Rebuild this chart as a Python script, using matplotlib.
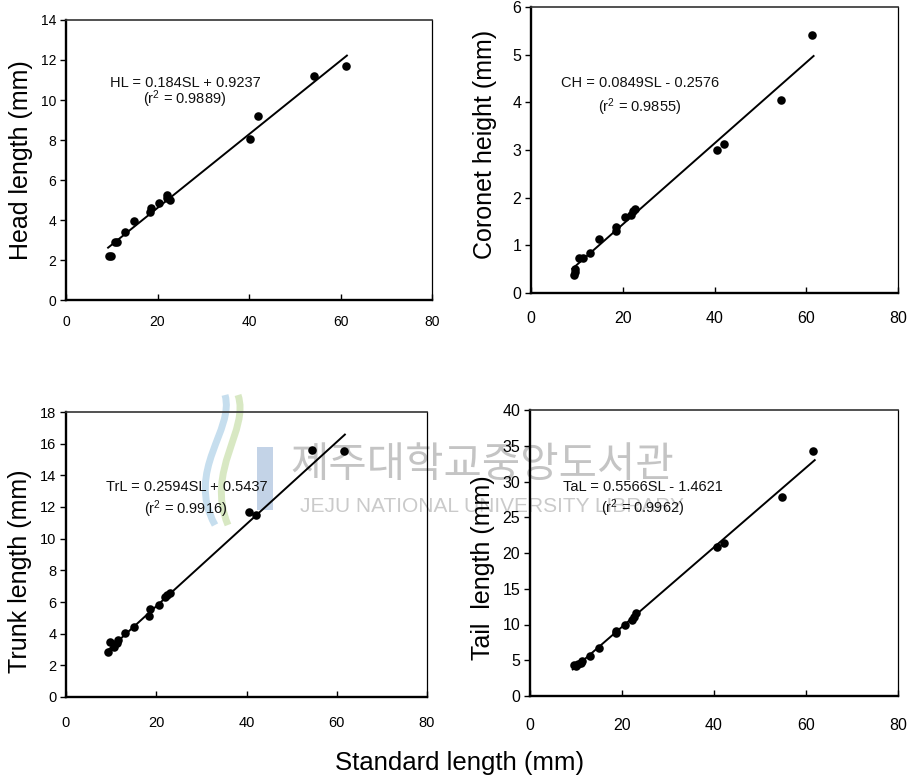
import matplotlib
matplotlib.use("Agg")
import matplotlib.pyplot as plt
import numpy as np
from matplotlib.path import Path
from matplotlib.patches import PathPatch, Rectangle

plt.rcParams['font.family'] = ['Liberation Sans', 'DejaVu Sans']
plt.rcParams['mathtext.fontset'] = 'custom'
plt.rcParams['mathtext.rm'] = 'Liberation Sans'
plt.rcParams['mathtext.it'] = 'Liberation Sans:italic'
plt.rcParams['mathtext.default'] = 'regular'

# ---------------- data ----------------
hl_sl = [9.5, 9.9, 10.7, 11.2, 12.9, 14.9, 18.3, 18.5, 20.4, 22.0, 22.0, 22.7, 40.3, 41.9, 54.3, 61.1]
hl = [2.2, 2.2, 2.92, 2.92, 3.42, 3.97, 4.42, 4.58, 4.87, 5.25, 5.08, 5.0, 8.03, 9.22, 11.2, 11.7]

ch_sl = [9.3, 9.5, 9.7, 10.5, 11.3, 12.9, 14.8, 18.5, 18.5, 20.5, 21.9, 22.3, 22.7, 40.6, 42.0, 54.6, 61.3]
ch = [0.38, 0.45, 0.5, 0.73, 0.73, 0.83, 1.13, 1.39, 1.31, 1.6, 1.64, 1.71, 1.76, 3.0, 3.12, 4.05, 5.41]

tr_sl = [9.4, 9.8, 10.7, 11.3, 11.5, 13.0, 15.0, 18.5, 18.7, 20.5, 21.9, 22.4, 23.0, 40.5, 42.1, 54.6, 61.5]
trl = [2.86, 3.45, 3.18, 3.43, 3.6, 4.06, 4.4, 5.12, 5.56, 5.81, 6.34, 6.44, 6.59, 11.7, 11.5, 15.6, 15.56]

ta_sl = [9.6, 10.0, 10.5, 11.0, 11.4, 13.0, 15.1, 18.7, 18.8, 20.7, 22.1, 22.6, 23.0, 40.6, 42.2, 54.7, 61.6]
tal = [4.34, 4.24, 4.43, 4.66, 4.94, 5.6, 6.67, 9.14, 8.76, 10.0, 10.6, 11.0, 11.6, 20.9, 21.4, 27.8, 34.3]

slopes = [0.184, 0.0849, 0.2594, 0.5566]
intercepts = [0.9237, -0.2576, 0.5437, -1.4621]
equations = ["HL = 0.184SL + 0.9237", "CH = 0.0849SL - 0.2576",
             "TrL = 0.2594SL + 0.5437", "TaL = 0.5566SL - 1.4621"]
r2_labels = ["(r$^2$ = 0.9889)", "(r$^2$ = 0.9855)", "(r$^2$ = 0.9916)", "(r$^2$ = 0.9962)"]
ylabels = ["Head length (mm)", "Coronet height (mm)", "Trunk length (mm)", "Tail  length (mm)"]
ylims = [14, 6, 18, 40]
ysteps = [2, 1, 2, 5]
xticks = [0, 20, 40, 60, 80]

W, H = 909, 780
fig = plt.figure(figsize=(W / 100, H / 100), dpi=100)

def rect(l, t, r, b):
    return [l / W, 1 - b / H, (r - l) / W, (b - t) / H]

positions = [rect(66, 20, 432, 300), rect(531, 7, 898, 293),
             rect(66, 412, 427, 697), rect(530, 410, 898, 696)]
eq_pos = [((0.325, 0.775), (0.325, 0.718)), ((0.297, 0.734), (0.297, 0.650)),
          ((0.334, 0.737), (0.331, 0.660)), ((0.306, 0.731), (0.307, 0.657))]
ylab_pos = [(-0.09, 0.50), (-0.093, 0.52), (-0.094, 0.44), (-0.095, 0.45)]
tick_fs = [10, 11.5, 10.5, 11.5]
xpad = [11, 13, 14, 16]

xs = [hl_sl, ch_sl, tr_sl, ta_sl]
ys = [hl, ch, trl, tal]

# ---------------- watermark (behind axes) ----------------
def fpx(x, y):
    return (x / W, 1 - y / H)

fig.text(*fpx(482, 466), "제주대학교중앙도서관", family=['Noto Sans CJK KR'],
         fontsize=30, color='#c4c4c4', ha='center', va='center', zorder=-2)
fig.text(*fpx(492, 506), "JEJU NATIONAL UNIVERSITY LIBRARY",
         fontsize=15, color='#cacaca', ha='center', va='center', zorder=-2)
fig.patches.append(Rectangle(fpx(257, 510), 16 / W, 63 / H, transform=fig.transFigure,
                             facecolor='#b4c8e2', edgecolor='none', alpha=0.8, zorder=-2))
for (pts, col) in [([(215, 525), (185, 470), (235, 430), (225, 395)], '#b8d6ea'),
                   ([(228, 525), (205, 470), (250, 430), (238, 395)], '#cfe3b5')]:
    verts = [fpx(*p) for p in pts]
    pth = Path(verts, [Path.MOVETO, Path.CURVE4, Path.CURVE4, Path.CURVE4])
    fig.patches.append(PathPatch(pth, transform=fig.transFigure, facecolor='none',
                                 edgecolor=col, lw=5, alpha=0.8, zorder=-2))

# ---------------- panels ----------------
for i in range(4):
    ax = fig.add_axes(positions[i])
    ax.set_facecolor('none')
    x = np.array(xs[i]); y = np.array(ys[i])
    ax.scatter(x, y, s=38, color='black', zorder=3, linewidths=0)
    lx = np.array([x.min() - 0.3, x.max() + 0.3])
    ax.plot(lx, slopes[i] * lx + intercepts[i], color='black', lw=1.4, zorder=2)
    ax.set_xlim(0, 80)
    ax.set_ylim(0, ylims[i])
    ax.set_xticks(xticks)
    ax.set_yticks(np.arange(0, ylims[i] + 0.01, ysteps[i]))
    ax.tick_params(axis='x', direction='in', length=4, width=1, labelsize=tick_fs[i], pad=xpad[i])
    ax.tick_params(axis='y', direction='out', length=4, width=1, labelsize=tick_fs[i], pad=3)
    ax.spines['left'].set_linewidth(1.7)
    ax.spines['bottom'].set_linewidth(1.7)
    ax.spines['top'].set_linewidth(1.2)
    ax.spines['right'].set_linewidth(0.9)
    ax.spines['top'].set_color('#333333')
    (e1, e2) = eq_pos[i]
    ax.text(e1[0], e1[1], equations[i], transform=ax.transAxes, ha='center', va='center',
            fontsize=10.5, color='#111111')
    ax.text(e2[0], e2[1], r2_labels[i], transform=ax.transAxes, ha='center', va='center',
            fontsize=10.5, color='#111111')
    ax.set_ylabel(ylabels[i], fontsize=18)
    ax.yaxis.set_label_coords(*ylab_pos[i])

fig.text(*fpx(460, 763), "Standard length (mm)", fontsize=18.5, ha='center', va='center')

fig.savefig("out.png", dpi=100)
